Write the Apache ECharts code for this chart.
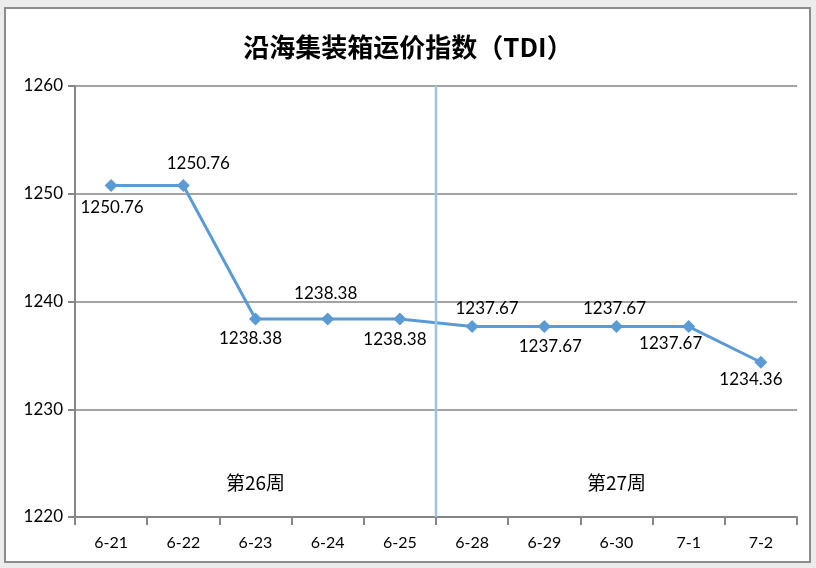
<!DOCTYPE html>
<html><head><meta charset="utf-8">
<script src="https://cdn.jsdelivr.net/npm/echarts@6/dist/echarts.min.js"></script>
<style>html,body{margin:0;padding:0;background:#ececec;}#c{width:816px;height:568px;}</style>
</head><body><div id="c"></div>
<script>
const categories = ['6-21','6-22','6-23','6-24','6-25','6-28','6-29','6-30','7-1','7-2'];
const values = [1250.76,1250.76,1238.38,1238.38,1238.38,1237.67,1237.67,1237.67,1237.67,1234.36];
const labelPos = ['bottom','top','bottom','top','bottom','top','bottom','top','bottom','bottom'];
const labelShift = [[1,2],[15,-2],[-5,0],[-2,-5],[-5,1],[15,2],[6,0],[-2,2],[-18,-3],[-10,-3]];
const weekLabels = ['第26周','第27周'];
const weekRanges = [['6-21','6-25'],['6-28','7-2']];
const yTicks = {min:1220, max:1260, interval:10};
const title = '沿海集装箱运价指数（TDI）';

const chart = echarts.init(document.getElementById('c'), null, {renderer:'canvas'});
const option = {
  animation:false,
  backgroundColor:'#ececec',
  title:{text:title, left:'center', top:29, textStyle:{fontFamily:'Noto Sans CJK SC', fontSize:26, fontWeight:'bold', color:'#000'}},
  grid:{left:75, right:19, top:86, bottom:51},
  xAxis:{type:'category', data:categories, boundaryGap:true,
    axisLine:{lineStyle:{color:'#868686', width:2}},
    axisTick:{show:true, length:8, lineStyle:{color:'#868686', width:2}},
    axisLabel:{color:'#000', fontFamily:'Lato', fontSize:16, margin:18}},
  yAxis:{type:'value', min:yTicks.min, max:yTicks.max, interval:yTicks.interval,
    axisLine:{show:true, lineStyle:{color:'#868686', width:2}},
    axisTick:{show:true, length:7, inside:false, lineStyle:{color:'#868686', width:2}},
    splitLine:{lineStyle:{color:'#868686', width:1.5}},
    axisLabel:{color:'#000', fontFamily:'Lato', fontSize:17, margin:12, formatter:v=>String(v)}},
  series:[{type:'line', data:values.map((v,i)=>({value:v, label:{position:labelPos[i], offset:labelShift[i]}})),
    symbol:'diamond', symbolSize:13, itemStyle:{color:'#5B9BD5'},
    lineStyle:{color:'#5B9BD5', width:3},
    label:{show:true, distance:5, color:'#000', fontFamily:'Lato', fontSize:17, formatter:p=>p.value.toFixed(2)}}]
};
chart.setOption(option);

const px = c => chart.convertToPixel({xAxisIndex:0}, c);
const py = v => chart.convertToPixel({yAxisIndex:0}, v);
const xSep = (px('6-25') + px('6-28'))/2;
const graphics = [
  {type:'rect', z:-1, shape:{x:5, y:8, width:805, height:554}, style:{fill:'#fff', stroke:'#8c8c8c', lineWidth:2}},
  {type:'line', z:5, shape:{x1:xSep, y1:py(yTicks.max), x2:xSep, y2:py(yTicks.min)}, style:{stroke:'#9DC3E6', lineWidth:2.5}}
];
weekLabels.forEach((t,i)=>{
  const cx = (px(weekRanges[i][0]) + px(weekRanges[i][1]))/2;
  graphics.push({type:'text', z:5, x:cx, y:py(1223.2), style:{text:t, fill:'#000', font:'19px "Noto Sans CJK SC"', align:'center', verticalAlign:'middle'}});
});
chart.setOption({graphic:graphics});
</script></body></html>
